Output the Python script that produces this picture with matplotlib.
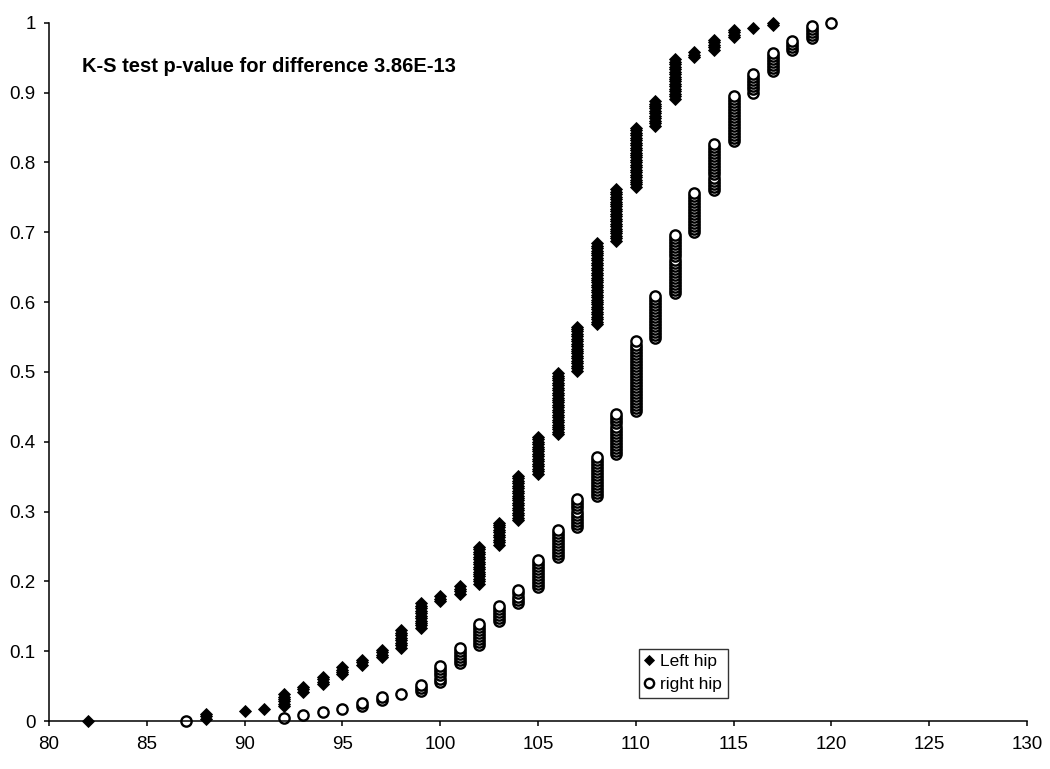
import numpy as np
import matplotlib
matplotlib.use('Agg')
from matplotlib import pyplot as plt
from matplotlib.ticker import FuncFormatter

plt.rcParams['font.family'] = ['Liberation Sans', 'DejaVu Sans']

#%% Data: number of observations at each value (read off the stacked points)
left_x = [82, 88, 90, 91, 92, 93, 94, 95, 96, 97, 98, 99, 100, 101, 102, 103,
          104, 105, 106, 107, 108, 109, 110, 111, 112, 113, 114, 115, 116, 117]
left_n = [1, 3, 1, 1, 6, 3, 4, 4, 3, 4, 8, 11, 3, 4, 16, 10,
          19, 16, 26, 19, 34, 22, 25, 11, 17, 3, 5, 4, 1, 2]

right_x = [87, 92, 93, 94, 95, 96, 97, 98, 99, 100, 101, 102, 103, 104, 105,
           106, 107, 108, 109, 110, 111, 112, 113, 114, 115, 116, 117, 118, 119, 120]
right_n = [1, 1, 1, 1, 1, 2, 2, 1, 3, 6, 6, 8, 6, 5, 10,
           10, 10, 14, 14, 24, 15, 20, 14, 16, 16, 7, 7, 4, 5, 1]

note = 'K-S test p-value for difference 3.86E-13'

#%% Cumulative ranks
def cum_rank(xv, nv):
    x = np.repeat(xv, nv)
    y = np.arange(len(x)) / (len(x) - 1)
    return x, y

xl, yl = cum_rank(left_x, left_n)
xr, yr = cum_rank(right_x, right_n)

#%% Plot
fig = plt.figure(figsize=(10.5, 7.69), dpi=100)
ax = fig.add_axes([0.0467, 0.0624, 0.9314, 0.9081])

ax.plot(xl, yl, 'D', color='k', markersize=6.2, markeredgewidth=0.6,
        linestyle='none', label='Left hip', clip_on=False)
ax.plot(xr, yr, 'o', markerfacecolor='w', markeredgecolor='k', markersize=7.4,
        markeredgewidth=1.7, linestyle='none', label='right hip', clip_on=False)

ax.set_xlim(80, 130)
ax.set_ylim(0, 1)
ax.set_xticks(np.arange(80, 131, 5))
ax.set_yticks(np.arange(0, 1.01, 0.1))
ax.yaxis.set_major_formatter(FuncFormatter(lambda v, p: '%g' % round(v, 1)))
for s in ['top', 'right']:
    ax.spines[s].set_visible(False)
for s in ['left', 'bottom']:
    ax.spines[s].set_linewidth(1.1)
ax.tick_params(axis='both', direction='out', length=3.5, width=1.1,
               labelsize=13.5, color='k')
ax.tick_params(axis='x', pad=7)
ax.tick_params(axis='y', pad=6)

ax.text(81.7, 0.937, note, fontsize=14.5, fontweight='bold', ha='left', va='center')

leg = ax.legend(loc='upper left', bbox_to_anchor=(0.603, 0.103), fontsize=12.5,
                frameon=True, fancybox=False, borderaxespad=0, handlelength=0.6,
                handletextpad=0.35, borderpad=0.3, labelspacing=0.45, markerscale=0.9)
leg.get_frame().set_edgecolor('k')
leg.get_frame().set_linewidth(1.0)

plt.savefig('out.png', dpi=100)
